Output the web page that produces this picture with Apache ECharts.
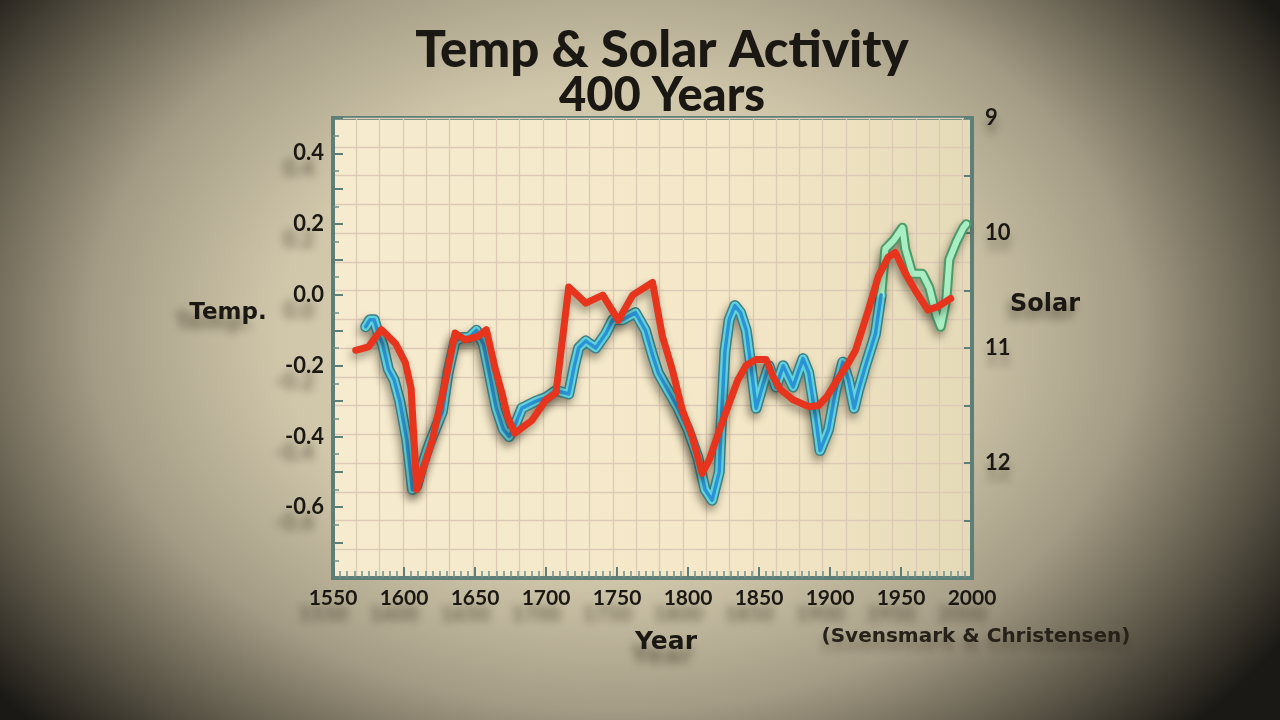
<!DOCTYPE html>
<html>
<head>
<meta charset="utf-8">
<script src="https://cdn.jsdelivr.net/npm/echarts@6/dist/echarts.min.js"></script>
<style>
html,body{margin:0;padding:0;width:1280px;height:720px;overflow:hidden;}
body{background:radial-gradient(ellipse 62% 80% at 48% 46%, #dad2b8 0%, #d0c7ab 42%, #a39b84 66%, #5a5446 85%, #1b1915 100%);}
#c{width:1280px;height:720px;}
</style>
</head>
<body>
<div id="c"></div>
<script>
// Temperature reconstruction (blue), year / anomaly
const tempYears = [1573,1576,1579,1582,1585,1589,1593,1597,1602,1606,1609,1613,1618,1623,1627,1631,1636,1641,1646,1651,1656,1660,1665,1670,1674,1678,1683,1688,1693,1700,1707,1716,1720,1723,1728,1735,1742,1747,1754,1763,1770,1775,1779,1786,1793,1800,1807,1812,1817,1822,1824,1826,1829,1833,1837,1841,1844,1848,1853,1857,1862,1867,1874,1881,1885,1890,1893,1899,1904,1909,1913,1917,1920,1925,1932,1936];
const tempValues = [-0.09,-0.07,-0.07,-0.11,-0.14,-0.21,-0.24,-0.30,-0.41,-0.55,-0.54,-0.48,-0.42,-0.37,-0.33,-0.22,-0.13,-0.12,-0.12,-0.10,-0.14,-0.22,-0.32,-0.38,-0.40,-0.37,-0.32,-0.31,-0.30,-0.29,-0.27,-0.28,-0.20,-0.15,-0.13,-0.15,-0.11,-0.07,-0.07,-0.05,-0.10,-0.17,-0.22,-0.27,-0.32,-0.38,-0.46,-0.55,-0.58,-0.50,-0.31,-0.16,-0.07,-0.03,-0.05,-0.10,-0.19,-0.32,-0.25,-0.20,-0.26,-0.20,-0.26,-0.18,-0.22,-0.35,-0.44,-0.38,-0.27,-0.19,-0.24,-0.32,-0.27,-0.20,-0.11,0.00];
// Recent temperature (green)
const recentYears = [1936,1939,1945,1951,1953,1958,1965,1970,1975,1978,1982,1984,1989,1994,1996];
const recentValues = [0.00,0.13,0.155,0.19,0.13,0.06,0.06,0.02,-0.06,-0.09,-0.01,0.10,0.15,0.19,0.20];
// Solar cycle length (red), right axis (inverted)
const solarYears = [1566,1575,1584,1594,1601,1605,1609,1620,1629,1636,1643,1652,1658,1664,1669,1673,1678,1690,1700,1707,1709,1716,1728,1740,1751,1761,1775,1782,1789,1796,1803,1810,1815,1822,1829,1835,1841,1848,1855,1860,1865,1874,1885,1892,1898,1904,1913,1918,1927,1934,1941,1946,1953,1960,1969,1976,1985];
const solarValues = [11.02,10.99,10.84,10.96,11.13,11.35,12.23,11.80,11.30,10.87,10.93,10.90,10.84,11.17,11.39,11.60,11.74,11.63,11.45,11.39,11.19,10.47,10.61,10.54,10.76,10.54,10.43,10.90,11.19,11.54,11.77,12.09,11.97,11.72,11.48,11.28,11.15,11.10,11.10,11.25,11.36,11.45,11.51,11.50,11.42,11.30,11.13,11.02,10.67,10.38,10.21,10.17,10.35,10.50,10.67,10.64,10.57];

const zip = (a, b) => a.map((v, i) => [v, b[i]]);
const FONT = 'Lato';
const INK = '#1b1813';
const FRAME = '#5e7f77';
const labelShadow = {textShadowColor:'rgba(45,35,20,0.55)', textShadowBlur:9, textShadowOffsetX:-10, textShadowOffsetY:16};
const lineShadow = {shadowColor:'rgba(35,28,15,0.45)', shadowBlur:8, shadowOffsetY:5, shadowOffsetX:-2};
const nameStyle = (txt, x, y, size, sx, sy) => ({type:'text', x:x, y:y, style:{text:txt, font:'bold '+size+'px "DejaVu Sans"', fill:INK, textAlign:'center', textVerticalAlign:'middle', textShadowColor:'rgba(45,35,20,0.5)', textShadowBlur:10, textShadowOffsetX:sx, textShadowOffsetY:sy}});

const chart = echarts.init(document.getElementById('c'), null, {renderer:'canvas'});
chart.setOption({
  animation:false,
  backgroundColor:'transparent',
  grid:{left:333,right:308,top:118,bottom:142,show:true,borderColor:FRAME,borderWidth:4,
    backgroundColor:{type:'linear',x:0,y:0,x2:1,y2:0,colorStops:[{offset:0,color:'#f6ebcf'},{offset:0.6,color:'#f4e8c8'},{offset:1,color:'#e5dab8'}]}},
  graphic:[
    {type:'text',x:662,y:51,style:{text:'Temp & Solar Activity',font:'900 51px Lato',fill:INK,textAlign:'center',textVerticalAlign:'middle'}},
    {type:'text',x:662,y:96,style:{text:'400 Years',font:'900 47px Lato',fill:INK,textAlign:'center',textVerticalAlign:'middle'}},
    nameStyle('Temp.', 228, 313, 23, -14, 10),
    nameStyle('Solar', 1045, 305, 24, -4, 8),
    nameStyle('Year', 666, 642, 25, -4, 14),
    {type:'text',x:976,y:637,style:{text:'(Svensmark & Christensen)',font:'bold 20px "DejaVu Sans"',fill:'#262219',textAlign:'center',textVerticalAlign:'middle',textShadowColor:'rgba(45,35,20,0.35)',textShadowBlur:8,textShadowOffsetY:8}}
  ],
  xAxis:[
    {type:'value',min:1550,max:2000,interval:50,position:'bottom',
     axisLine:{show:true,onZero:false,lineStyle:{color:FRAME,width:4}},
     axisTick:{show:true,inside:true,length:11,lineStyle:{color:FRAME,width:2}},
     minorTick:{show:true,splitNumber:10,length:7,lineStyle:{color:'#6f9088',width:1.5}},
     splitLine:{show:false},
     axisLabel:Object.assign({margin:10,fontFamily:FONT,fontWeight:'bold',fontSize:21,color:INK,formatter:v=>String(v)},labelShadow)},
    {type:'value',min:0,max:27.4,interval:1,position:'top',
     axisLine:{show:false},axisTick:{show:false},axisLabel:{show:false},
     splitLine:{show:true,lineStyle:{color:'#dccab6',width:1.3}}}
  ],
  yAxis:[
    {type:'value',min:-0.8,max:0.5,interval:0.1,position:'left',
     axisLine:{show:true,onZero:false,lineStyle:{color:FRAME,width:4}},
     axisTick:{show:true,inside:true,length:10,lineStyle:{color:FRAME,width:2}},
     minorTick:{show:true,splitNumber:2,length:6,lineStyle:{color:'#6f9088',width:1.5}},
     splitLine:{show:false},
     axisLabel:Object.assign({margin:9,fontFamily:FONT,fontWeight:'bold',fontSize:22,color:INK,showMinLabel:false,showMaxLabel:false,
       formatter:v=>{const k=Math.round(v*10);return (k%2===0)?(k/10).toFixed(1):'';}},labelShadow)},
    {type:'value',min:9,max:13,interval:0.5,inverse:true,position:'right',
     axisLine:{show:true,onZero:false,lineStyle:{color:FRAME,width:4}},
     axisTick:{show:true,inside:true,length:8,lineStyle:{color:FRAME,width:2}},
     splitLine:{show:false},
     axisLabel:Object.assign({margin:13,fontFamily:FONT,fontWeight:'bold',fontSize:22,color:INK,
       formatter:v=>(Number.isInteger(v)&&v<13)?String(v):''},{textShadowColor:'rgba(45,35,20,0.4)',textShadowBlur:8,textShadowOffsetY:10})},
    {type:'value',min:9,max:13,interval:0.25,inverse:true,position:'right',
     axisLine:{show:false},axisTick:{show:false},axisLabel:{show:false},
     splitLine:{show:true,lineStyle:{color:'#dccab6',width:1.3}}}
  ],
  series:[
    {type:'line',xAxisIndex:0,yAxisIndex:0,data:zip(tempYears,tempValues),showSymbol:false,symbol:'none',silent:true,z:2,
     lineStyle:Object.assign({width:11,color:'#3d7e86',join:'round',cap:'round'},lineShadow)},
    {type:'line',xAxisIndex:0,yAxisIndex:0,data:zip(tempYears,tempValues),showSymbol:false,symbol:'none',silent:true,z:3,
     lineStyle:{width:8,color:'#62d2da',join:'round',cap:'round'}},
    {type:'line',xAxisIndex:0,yAxisIndex:0,data:zip(tempYears,tempValues),showSymbol:false,symbol:'none',silent:true,z:4,
     lineStyle:{width:3.5,color:'#2a93d6',join:'round',cap:'round'}},
    {type:'line',xAxisIndex:0,yAxisIndex:0,data:zip(recentYears,recentValues),showSymbol:false,symbol:'none',silent:true,z:2,
     lineStyle:Object.assign({width:10,color:'#4c9a68',join:'round',cap:'round'},lineShadow)},
    {type:'line',xAxisIndex:0,yAxisIndex:0,data:zip(recentYears,recentValues),showSymbol:false,symbol:'none',silent:true,z:3,
     lineStyle:{width:6,color:'#a9eec3',join:'round',cap:'round'}},
    {type:'line',xAxisIndex:0,yAxisIndex:1,data:zip(solarYears,solarValues),showSymbol:false,symbol:'none',silent:true,z:6,
     lineStyle:Object.assign({width:7,color:'#e7341d',join:'round',cap:'round'},lineShadow)}
  ]
});
</script>
</body>
</html>
